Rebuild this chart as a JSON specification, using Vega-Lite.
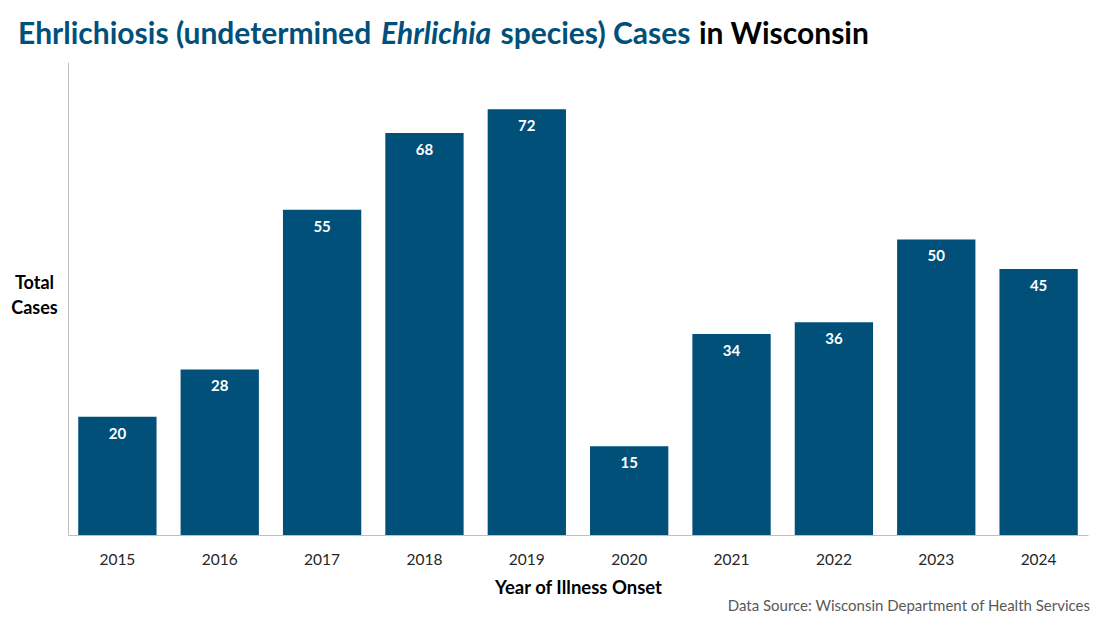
{
  "$schema": "https://vega.github.io/schema/vega-lite/v6.json",
  "autosize": {"type": "none"},
  "padding": {"left": 68, "top": 62, "right": 12, "bottom": 84},
  "width": 1020,
  "height": 473,
  "background": "white",
  "config": {"view": {"stroke": null}, "font": "Lato"},
  "title": {
    "text": "Data Source: Wisconsin Department of Health Services",
    "orient": "bottom",
    "anchor": "end",
    "frame": "group",
    "font": "Lato",
    "fontSize": 15,
    "fontWeight": "normal",
    "color": "#595959",
    "offset": 2,
    "dx": 2
  },
  "data": {
    "values": [
      {"year": 2015, "cases": 20},
      {"year": 2016, "cases": 28},
      {"year": 2017, "cases": 55},
      {"year": 2018, "cases": 68},
      {"year": 2019, "cases": 72},
      {"year": 2020, "cases": 15},
      {"year": 2021, "cases": 34},
      {"year": 2022, "cases": 36},
      {"year": 2023, "cases": 50},
      {"year": 2024, "cases": 45}
    ]
  },
  "resolve": {"axis": {"x": "independent"}},
  "layer": [
    {
      "mark": {"type": "bar", "color": "#00507a"},
      "encoding": {
        "x": {
          "field": "year",
          "type": "nominal",
          "scale": {"paddingInner": 0.235, "paddingOuter": 0.1},
          "axis": {
            "orient": "bottom",
            "labelAngle": 0,
            "ticks": false,
            "domainColor": "#bfbfbf",
            "domainWidth": 1,
            "labelFont": "Lato",
            "labelFontSize": 15.5,
            "labelColor": "#262626",
            "labelBaseline": "alphabetic",
            "labelPadding": 29,
            "title": "Year of Illness Onset",
            "titleFont": "Lato",
            "titleFontSize": 18.5,
            "titleFontWeight": "bold",
            "titleColor": "#000000",
            "titleBaseline": "alphabetic",
            "titleY": 58
          }
        },
        "y": {
          "field": "cases",
          "type": "quantitative",
          "scale": {"domain": [0, 80], "nice": false},
          "axis": {
            "labels": false,
            "ticks": false,
            "grid": false,
            "domain": true,
            "domainColor": "#bfbfbf",
            "title": ["Total", "Cases"],
            "titleAngle": 0,
            "titleFont": "Lato",
            "titleFontSize": 18,
            "titleFontWeight": "bold",
            "titleColor": "#000000",
            "titleAlign": "center",
            "titleBaseline": "alphabetic",
            "titleLineHeight": 25,
            "titleX": -34,
            "titleY": 226
          }
        }
      }
    },
    {
      "mark": {"type": "text", "color": "white", "font": "Lato", "fontSize": 15, "fontWeight": "bold", "baseline": "middle", "dy": 17},
      "encoding": {
        "x": {
          "field": "year",
          "type": "nominal",
          "axis": {
            "orient": "top",
            "values": [2015, 2016, 2017, 2018],
            "labelExpr": "datum.value == 2015 ? 'Ehrlichiosis (undetermined' : datum.value == 2016 ? 'Ehrlichia' : datum.value == 2017 ? 'species) Cases' : 'in Wisconsin'",
            "domain": false,
            "ticks": false,
            "grid": false,
            "title": null,
            "labelAngle": 0,
            "labelAlign": "left",
            "labelBaseline": "alphabetic",
            "labelPadding": 19,
            "labelFont": "Lato",
            "labelFontSize": 30,
            "labelFontWeight": "bold",
            "labelLimit": 0,
            "labelOverlap": false,
            "labelBound": false,
            "labelFlush": false,
            "labelColor": {"condition": {"test": "datum.value == 2018", "value": "#000000"}, "value": "#00507a"},
            "labelFontStyle": {"condition": {"test": "datum.value == 2016", "value": "italic"}, "value": "normal"},
            "labelOffset": {
              "condition": [
                {"test": "datum.value == 2015", "value": -99.4},
                {"test": "datum.value == 2016", "value": 161.2},
                {"test": "datum.value == 2017", "value": 178.4}
              ],
              "value": 274.5
            }
          }
        },
        "y": {"field": "cases", "type": "quantitative"},
        "text": {"field": "cases", "type": "quantitative"}
      }
    }
  ]
}
